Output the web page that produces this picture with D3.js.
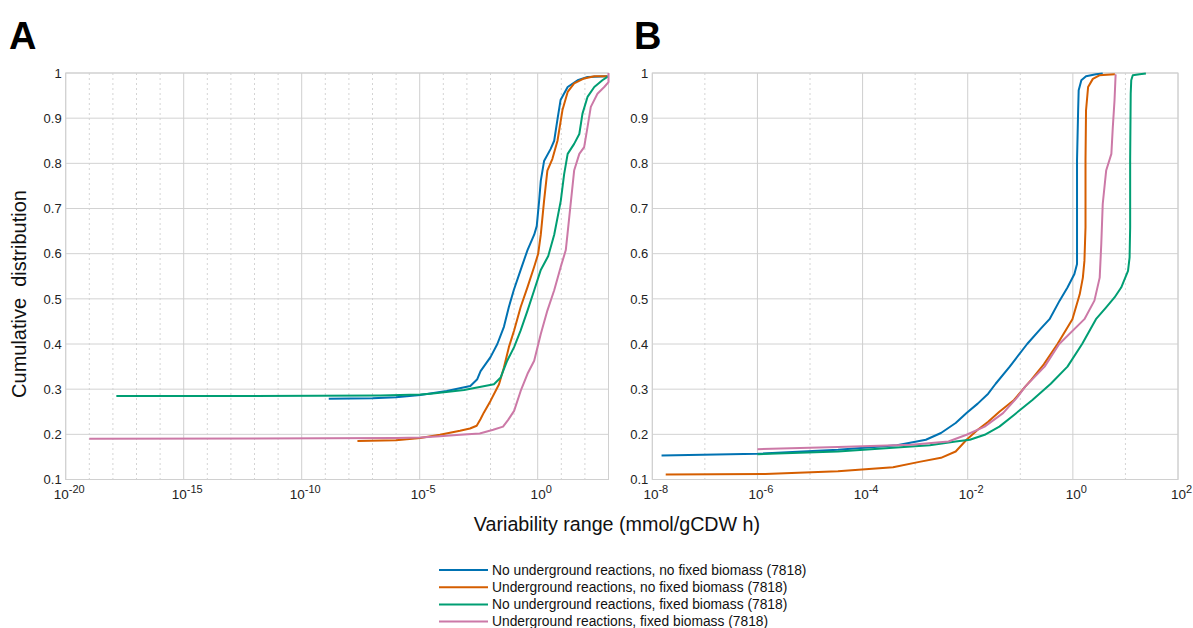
<!DOCTYPE html>
<html><head><meta charset="utf-8">
<script src="https://cdn.jsdelivr.net/npm/d3@7"></script>
<style>
body{margin:0;background:#fff;}
text{font-family:"Liberation Sans",Arial,sans-serif;}
</style></head>
<body><svg id="c" width="1193" height="628"></svg>
<script>
// ---------- DATA ----------
const seriesNames = [
  "No underground reactions, no fixed biomass (7818)",
  "Underground reactions, no fixed biomass (7818)",
  "No underground reactions, fixed biomass (7818)",
  "Underground reactions, fixed biomass (7818)"
];
const seriesColors = ["#0072B2", "#D55E00", "#009E73", "#CC79A7"];

const yTicks = [0.1,0.2,0.3,0.4,0.5,0.6,0.7,0.8,0.9,1];
const xTicksA = [1e-20,1e-15,1e-10,1e-5,1];
const xTickExpA = [-20,-15,-10,-5,0];
const xTicksB = [1e-8,1e-6,1e-4,1e-2,1,1e2];
const xTickExpB = [-8,-6,-4,-2,0,2];

// Panel A
const blueA_x = [1.4e-9,1e-7,1e-6,1.05e-5,1.4e-4,1.4e-3,2.75e-3,3.8e-3,1e-2,1.95e-2,3.7e-2,6.0e-2,9.8e-2,0.19,0.37,0.71,0.91,1.15,1.35,1.86,3.55,5.0,6.9,9.3,18.6,49,129,890];
const blueA_y = [0.279,0.280,0.282,0.287,0.296,0.307,0.322,0.340,0.371,0.400,0.438,0.482,0.520,0.564,0.608,0.642,0.661,0.717,0.761,0.805,0.832,0.850,0.898,0.940,0.969,0.984,0.991,0.993];
const orangeA_x = [2.3e-8,1e-6,1.05e-5,7.2e-5,5.1e-4,1.35e-3,2.6e-3,3.8e-3,5.2e-3,1e-2,2.3e-2,3.7e-2,6.0e-2,0.1,0.19,0.37,0.71,1.05,1.35,1.86,2.57,4.2,6.9,11.2,18.6,35,93,250,890];
const orangeA_y = [0.185,0.187,0.192,0.199,0.208,0.213,0.219,0.234,0.248,0.274,0.311,0.348,0.393,0.430,0.482,0.526,0.571,0.600,0.642,0.717,0.784,0.810,0.850,0.918,0.958,0.977,0.988,0.993,0.993];
const greenA_x = [1.4e-18,1e-12,2.1e-7,1.05e-5,2.9e-5,7.6e-4,1.4e-2,2.7e-2,5.1e-2,0.1,0.19,0.37,0.71,1.35,2.8,5.0,9.5,13.2,18.6,35,58,79,129,250,550,1000];
const greenA_y = [0.285,0.285,0.286,0.288,0.290,0.298,0.311,0.326,0.363,0.393,0.430,0.474,0.519,0.564,0.595,0.642,0.717,0.776,0.821,0.843,0.865,0.910,0.947,0.969,0.984,0.993];
const pinkA_x = [1e-19,1e-12,1e-6,1.05e-5,7.2e-5,5.1e-4,3.5e-3,1.3e-2,3.4e-2,5.6e-2,0.1,0.19,0.37,0.71,0.98,1.35,2.57,5.0,9.5,15.5,18.2,25.7,35,58,93,129,178,340,660,1000,1000];
const pinkA_y = [0.190,0.191,0.192,0.193,0.196,0.199,0.202,0.210,0.217,0.232,0.252,0.296,0.334,0.363,0.393,0.422,0.474,0.519,0.571,0.608,0.642,0.717,0.784,0.821,0.836,0.880,0.925,0.954,0.969,0.980,1.0];

// Panel B
const blueB_x = [1.5e-8,1e-6,3.4e-5,4.5e-4,1.6e-3,3.1e-3,5.9e-3,9.5e-3,1.55e-2,2.45e-2,3.4e-2,6.3e-2,0.135,0.25,0.36,0.56,0.79,1.07,1.2,1.2,1.26,1.29,1.45,1.78,2.75,3.7];
const blueB_y = [0.153,0.157,0.166,0.176,0.188,0.203,0.225,0.247,0.268,0.290,0.312,0.350,0.400,0.435,0.455,0.496,0.525,0.555,0.577,0.806,0.917,0.962,0.984,0.993,0.997,0.999];
const orangeB_x = [1.8e-8,1.4e-6,3.4e-5,3.8e-4,1.2e-3,3.1e-3,5.9e-3,9.5e-3,1.55e-2,2.45e-2,4.0e-2,7.6e-2,0.123,0.16,0.28,0.51,0.98,1.35,1.55,1.66,1.74,1.74,1.78,1.95,2.4,3.2,6.3];
const orangeB_y = [0.111,0.112,0.118,0.127,0.139,0.148,0.162,0.188,0.210,0.228,0.250,0.276,0.305,0.320,0.355,0.400,0.455,0.510,0.547,0.584,0.658,0.806,0.917,0.969,0.987,0.995,0.997];
const greenB_x = [1e-6,3.4e-5,1.9e-3,5.9e-3,1.1e-2,2.1e-2,4.0e-2,7.6e-2,0.17,0.38,0.79,1.5,2.75,4.3,6.2,8.3,11.2,12.0,12.3,12.3,12.6,12.9,13.8,18.6,24.5];
const greenB_y = [0.156,0.162,0.176,0.184,0.188,0.199,0.217,0.243,0.276,0.312,0.350,0.400,0.455,0.481,0.503,0.525,0.562,0.592,0.658,0.806,0.954,0.984,0.995,0.997,0.999];
const pinkB_x = [1e-6,3.4e-5,8.5e-4,4.3e-3,9.5e-3,2.1e-2,4.7e-2,8.9e-2,0.123,0.29,0.55,1.66,2.57,3.24,3.47,3.7,4.3,5.4,5.75,6.2,6.5,6.6];
const pinkB_y = [0.167,0.172,0.177,0.184,0.199,0.217,0.247,0.283,0.305,0.350,0.400,0.455,0.496,0.547,0.621,0.710,0.784,0.821,0.880,0.939,0.995,0.997];

// ---------- DRAW ----------
const svg = d3.select("#c");
const plotTop = 73, plotBottom = 479.5;
const y = d3.scaleLinear().domain([0.1, 1]).range([plotBottom, plotTop]);

function panel(cfg) {
  const x = d3.scaleLog().domain(cfg.domain).range(cfg.range);
  const g = svg.append("g");
  const [x0, x1] = cfg.range;
  g.selectAll(".minor").data(cfg.minor).join("line")
    .attr("x1", d => x(d)).attr("x2", d => x(d))
    .attr("y1", plotTop).attr("y2", plotBottom)
    .attr("stroke", "#d4d4d4").attr("stroke-width", 1).attr("stroke-dasharray", "2,3");
  g.selectAll(".hg").data(yTicks).join("line")
    .attr("x1", x0).attr("x2", x1)
    .attr("y1", d => y(d)).attr("y2", d => y(d))
    .attr("stroke", "#d2d2d2").attr("stroke-width", 1);
  g.selectAll(".vg").data(cfg.ticks).join("line")
    .attr("x1", d => x(d)).attr("x2", d => x(d))
    .attr("y1", plotTop).attr("y2", plotBottom)
    .attr("stroke", "#cfcfcf").attr("stroke-width", 1);
  g.append("rect").attr("x", x0).attr("y", plotTop).attr("width", x1 - x0).attr("height", plotBottom - plotTop)
    .attr("fill", "none").attr("stroke", "#d0d0d0").attr("stroke-width", 1);

  const ya = g.append("g").attr("transform", `translate(${x0},0)`)
    .call(d3.axisLeft(y).tickValues(yTicks).tickSize(0).tickPadding(4)
      .tickFormat(d => d === 1 ? "1" : d3.format(".1f")(d)));
  ya.select(".domain").remove();
  ya.selectAll("text").attr("font-size", 13).attr("fill", "#222")
    .attr("font-family", "Liberation Sans, Arial, sans-serif");

  const xa = g.append("g").attr("transform", `translate(0,${plotBottom})`)
    .call(d3.axisBottom(x).tickValues(cfg.ticks).tickSize(0).tickFormat(""));
  xa.select(".domain").remove();
  xa.selectAll(".tick").each(function(d, i) {
    const t = d3.select(this).select("text");
    t.attr("y", 19).attr("dy", null).attr("dx", 3)
      .attr("font-size", 13.5).attr("fill", "#222")
      .attr("font-family", "Liberation Sans, Arial, sans-serif").text(null);
    t.append("tspan").text("10");
    t.append("tspan").attr("dy", -6).attr("font-size", 11).text(String(cfg.exps[i]));
  });

  const line = d3.line().x(d => x(d[0])).y(d => y(d[1]));
  cfg.series.forEach((s, k) => {
    const pts = s[0].map((v, i) => [v, s[1][i]]);
    g.append("path").datum(pts).attr("d", line)
      .attr("fill", "none").attr("stroke", seriesColors[k]).attr("stroke-width", 2)
      .attr("stroke-linejoin", "round");
  });

  svg.append("text").attr("x", cfg.letterX).attr("y", 49).text(cfg.letter)
    .attr("font-size", 38).attr("font-weight", "bold").attr("fill", "#000");
}

panel({
  domain: [1e-20, 1e3], range: [65.7, 608.5],
  ticks: xTicksA, exps: xTickExpA,
  minor: d3.range(-19, 3).filter(e => e % 5 !== 0).map(e => Math.pow(10, e)),
  series: [[blueA_x, blueA_y], [orangeA_x, orangeA_y], [greenA_x, greenA_y], [pinkA_x, pinkA_y]],
  letter: "A", letterX: 9
});
panel({
  domain: [1e-8, 1e2], range: [652.3, 1178],
  ticks: xTicksB, exps: xTickExpB,
  minor: d3.range(-7, 2, 2).map(e => Math.pow(10, e)),
  series: [[blueB_x, blueB_y], [orangeB_x, orangeB_y], [greenB_x, greenB_y], [pinkB_x, pinkB_y]],
  letter: "B", letterX: 634
});

svg.append("text").attr("transform", "translate(26,294) rotate(-90)")
  .attr("text-anchor", "middle").attr("font-size", 20).attr("fill", "#111")
  .style("white-space", "pre").text("Cumulative  distribution");
svg.append("text").attr("x", 617).attr("y", 531).attr("text-anchor", "middle")
  .attr("font-size", 19.7).attr("fill", "#111").text("Variability range (mmol/gCDW h)");

const leg = svg.append("g");
seriesNames.forEach((n, i) => {
  const yy = 570 + i * 17.2;
  leg.append("line").attr("x1", 439).attr("x2", 488).attr("y1", yy).attr("y2", yy)
    .attr("stroke", seriesColors[i]).attr("stroke-width", 2);
  leg.append("text").attr("x", 492).attr("y", yy + 4.8).attr("font-size", 13.8)
    .attr("fill", "#111").text(n);
});
</script></body></html>
